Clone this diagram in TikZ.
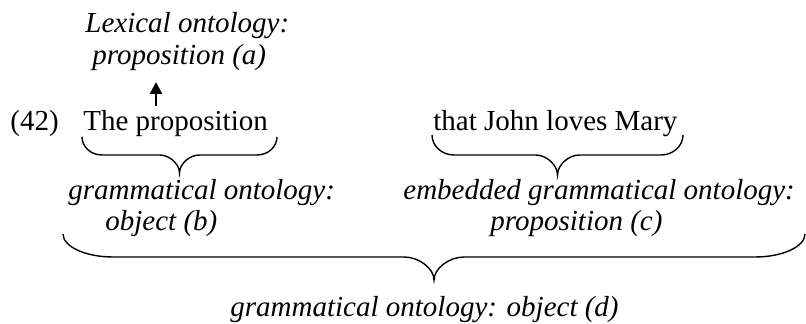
\documentclass[tikz,border=0pt]{standalone}
\usepackage{fontspec}
\setmainfont{Liberation Serif}
\usetikzlibrary{arrows.meta}

\tikzset{
  txt/.style={anchor=base west, inner sep=0pt, font=\fontsize{14.5}{17}\selectfont},
  gloss/.style={txt, font=\fontsize{14.5}{17}\selectfont\itshape},
  bracestyle/.style={line width=0.7pt},
  uparrow/.style={-{Triangle[length=6pt,width=6pt]}, line width=1.2pt}
}

% brace under a word: left x, right x, top y, half depth, end curve width, tip curve width
\newcommand{\bracebelow}[6]{%
  \draw[bracestyle] (#1,#3)
    .. controls (#1,{#3+0.55*#4}) and ({#1+0.45*#5},{#3+#4}) .. ({#1+#5},{#3+#4})
    -- ({(#1+#2)/2-#6},{#3+#4})
    .. controls ({(#1+#2)/2-0.5*#6},{#3+#4}) and ({(#1+#2)/2},{#3+1.5*#4}) .. ({(#1+#2)/2},{#3+2*#4})
    .. controls ({(#1+#2)/2},{#3+1.5*#4}) and ({(#1+#2)/2+0.5*#6},{#3+#4}) .. ({(#1+#2)/2+#6},{#3+#4})
    -- ({#2-#5},{#3+#4})
    .. controls ({#2-0.45*#5},{#3+#4}) and (#2,{#3+0.55*#4}) .. (#2,#3);%
}

\begin{document}
\begin{tikzpicture}[x=0.5pt, y=-0.5pt]
    \useasboundingbox (0,0) rectangle (806,324);

    % Lexical ontology on top
    \node[gloss] (lexA) at (85,33) {Lexical ontology:};
    \node[gloss] (lexB) at (92,65) {proposition (a)};

    % The example sentence
    \node[txt] (exnum) at (10,131) {(42)};
    \node[txt] (theprop) at (83,131) {The proposition};
    \node[txt] (thatjohn) at (433,131) {that John loves Mary};

    % Arrow from the noun up to its lexical reading
    \coordinate (tipA) at (156,82);
    \draw[uparrow, shorten <=2pt] (theprop.north -| tipA) -- (tipA);

    % Braces under both parts
    \bracebelow{82}{277}{137}{18}{20}{20}
    \bracebelow{432}{683}{135}{20}{22}{22}

    % Grammatical readings of the parts
    \node[gloss] (gramB1) at (68,200) {grammatical ontology:};
    \node[gloss] (gramB2) at (105,231) {object (b)};
    \node[gloss] (embC1) at (403,200) {embedded grammatical ontology:};
    \node[gloss] (embC2) at (490,231) {proposition (c)};

    % Brace over the whole phrase
    \bracebelow{63}{805}{234}{23}{50}{30}
    \node[gloss] (gramD) at (230,317) {grammatical ontology: object (d)};
\end{tikzpicture}
\end{document}
